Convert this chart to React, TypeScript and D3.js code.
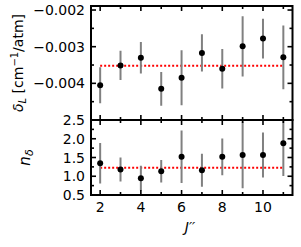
import * as d3 from "d3";

const J = [2, 3, 4, 5, 6, 7, 8, 9, 10, 11];
const deltaL = [-0.00405, -0.00351, -0.0033, -0.00415, -0.00385, -0.00317, -0.0036, -0.00299, -0.00278, -0.00329];
const deltaErr = [0.00049, 0.0004, 0.00043, 0.00046, 0.00075, 0.00051, 0.00054, 0.00082, 0.00054, 0.00087];
const deltaMean = -0.00352;
const nDelta = [1.35, 1.18, 0.95, 1.135, 1.52, 1.16, 1.52, 1.57, 1.57, 1.88];
const nErr = [0.54, 0.32, 0.33, 0.3, 0.7, 0.44, 0.49, 0.89, 0.6, 0.87];
const nMean = 1.23;

const xMajor = [2, 4, 6, 8, 10];
const xMinor = [3, 5, 7, 9, 11];
const topMajor = [-0.002, -0.003, -0.004];
const topMinor = [-0.0025, -0.0035, -0.0045];
const botMajor = [0.5, 1.0, 1.5, 2.0, 2.5];
const botMinor = [0.75, 1.25, 1.75, 2.25];

const W = 301;
const H = 247;
const left = 91;
const right = 292.5;
const top1 = 6;
const mid = 120;
const bot = 195;
const font = "DejaVu Sans";

export default function App() {
  const x = d3.scaleLinear().domain([1.55, 11.45]).range([left, right]);
  const yT = d3.scaleLinear().domain([-0.005, -0.00189]).range([mid, top1]);
  const yB = d3.scaleLinear().domain([0.5, 2.5]).range([bot, mid]);
  const fT = d3.format(".3f");
  const fB = d3.format(".1f");

  const ticks = (y0: number, y1: number) => (
    <g stroke="black" strokeWidth={1.6}>
      {xMajor.map((v) => (
        <g key={"M" + v}>
          <line x1={x(v)} x2={x(v)} y1={y0} y2={y0 + 5} />
          <line x1={x(v)} x2={x(v)} y1={y1} y2={y1 - 5} />
        </g>
      ))}
      {xMinor.map((v) => (
        <g key={"m" + v}>
          <line x1={x(v)} x2={x(v)} y1={y0} y2={y0 + 3} />
          <line x1={x(v)} x2={x(v)} y1={y1} y2={y1 - 3} />
        </g>
      ))}
    </g>
  );

  const yTicks = (ys: number[], len: number) => (
    <g stroke="black" strokeWidth={1.6}>
      {ys.map((py, i) => (
        <g key={i}>
          <line x1={left} x2={left + len} y1={py} y2={py} />
          <line x1={right} x2={right - len} y1={py} y2={py} />
        </g>
      ))}
    </g>
  );

  return (
    <svg width={W} height={H} style={{ position: "absolute", left: 0, top: 0 }} fontFamily={font}>
      <defs>
        <clipPath id="cT">
          <rect x={left} y={top1} width={right - left} height={mid - top1} />
        </clipPath>
        <clipPath id="cB">
          <rect x={left} y={mid} width={right - left} height={bot - mid} />
        </clipPath>
      </defs>

      {/* top panel */}
      <g clipPath="url(#cT)">
        <line x1={x(2)} x2={x(11)} y1={yT(deltaMean)} y2={yT(deltaMean)} stroke="red" strokeWidth={2} strokeDasharray="2,2" />
        {J.map((j, i) => (
          <line key={j} x1={x(j)} x2={x(j)} y1={yT(deltaL[i] - deltaErr[i])} y2={yT(deltaL[i] + deltaErr[i])} stroke="#808080" strokeWidth={2} />
        ))}
        {J.map((j, i) => (
          <circle key={j} cx={x(j)} cy={yT(deltaL[i])} r={3} fill="black" />
        ))}
      </g>
      {ticks(top1, mid)}
      {yTicks(topMajor.map((v) => yT(v)), 5)}
      {yTicks(topMinor.map((v) => yT(v)), 3)}
      {topMajor.map((v) => (
        <text key={v} x={left - 6} y={yT(v)} dy="0.36em" textAnchor="end" fontSize={14}>
          {fT(v)}
        </text>
      ))}
      <rect x={left} y={top1} width={right - left} height={mid - top1} fill="none" stroke="black" strokeWidth={2} />

      {/* bottom panel */}
      <g clipPath="url(#cB)">
        <line x1={x(2)} x2={x(11)} y1={yB(nMean)} y2={yB(nMean)} stroke="red" strokeWidth={2} strokeDasharray="2,2" />
        {J.map((j, i) => (
          <line key={j} x1={x(j)} x2={x(j)} y1={yB(nDelta[i] - nErr[i])} y2={yB(nDelta[i] + nErr[i])} stroke="#808080" strokeWidth={2} />
        ))}
        {J.map((j, i) => (
          <circle key={j} cx={x(j)} cy={yB(nDelta[i])} r={3} fill="black" />
        ))}
      </g>
      {ticks(mid, bot)}
      {yTicks(botMajor.map((v) => yB(v)), 5)}
      {yTicks(botMinor.map((v) => yB(v)), 3)}
      {botMajor.map((v) => (
        <text key={v} x={left - 6} y={yB(v)} dy="0.36em" textAnchor="end" fontSize={14}>
          {fB(v)}
        </text>
      ))}
      <rect x={left} y={mid} width={right - left} height={bot - mid} fill="none" stroke="black" strokeWidth={2} />

      {xMajor.map((v) => (
        <text key={v} x={x(v)} y={bot + 17} textAnchor="middle" fontSize={14}>
          {v}
        </text>
      ))}

      <text x={190} y={232} textAnchor="middle" fontSize={14} fontStyle="italic">
        J′′
      </text>

      <text transform={`translate(23,${(top1 + mid) / 2}) rotate(-90)`} textAnchor="middle" fontSize={14}>
        <tspan fontStyle="italic">δ</tspan>
        <tspan fontStyle="italic" fontSize={10} dy="3">L</tspan>
        <tspan dy="-3"> [cm</tspan>
        <tspan fontSize={10} dy="-5">−1</tspan>
        <tspan dy="5">/atm]</tspan>
      </text>

      <text transform={`translate(30,${(mid + bot) / 2}) rotate(-90)`} textAnchor="middle" fontSize={15}>
        <tspan fontStyle="italic">n</tspan>
        <tspan fontStyle="italic" fontSize={11} dy="3">δ</tspan>
      </text>
    </svg>
  );
}
